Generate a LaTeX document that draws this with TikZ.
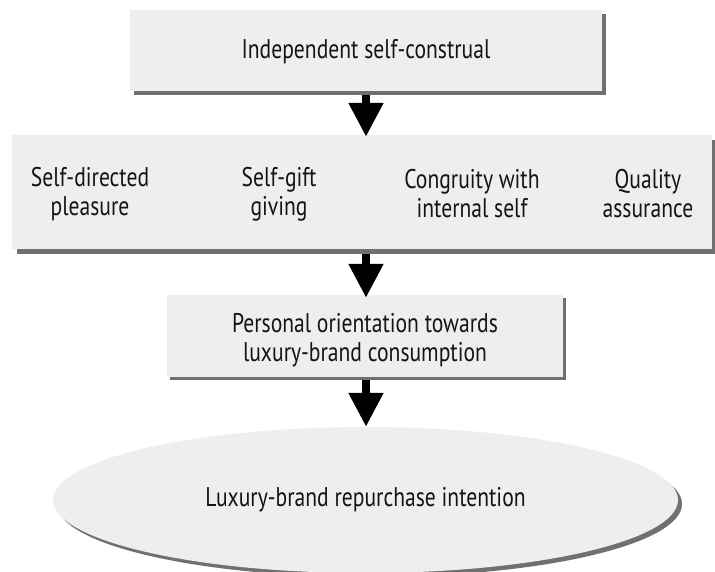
\documentclass[tikz,border=0pt]{standalone}
\usepackage{fontspec}
\setmainfont{PT Sans}[FakeStretch=0.8]
\usetikzlibrary{arrows.meta,shapes.geometric}
\definecolor{boxfill}{HTML}{EEEEEE}
\definecolor{shadowgray}{HTML}{707070}
\begin{document}
\begin{tikzpicture}[x=1pt,y=-1pt,
  lbl/.style={font=\fontsize{27}{29}\selectfont, align=center, text=black!92, inner sep=0pt},
  boxfillstyle/.style={fill=boxfill, draw=none},
  shadowstyle/.style={fill=shadowgray, draw=none},
  bigarrow/.style={draw=black, line width=8pt, -{Triangle[length=34pt,width=33pt]}}
]
\useasboundingbox (0,0) rectangle (715,572);
% box 1
\fill[shadowstyle] (134,14) rectangle (606,95);
\node[boxfillstyle, minimum width=472pt, minimum height=81pt, inner sep=0pt] (b1) at (366,50.5) {};
\node[lbl] (t1) at (366,52) {Independent self-construal};
% box 2
\fill[shadowstyle] (17,140) rectangle (717,254);
\node[boxfillstyle, minimum width=700pt, minimum height=114pt, inner sep=0pt] (b2) at (362,192) {};
\node[lbl] (c1) at (90,194) {Self-directed\\pleasure};
\node[lbl] (c2) at (279,194) {Self-gift\\giving};
\node[lbl] (c3) at (472,194) {Congruity with\\internal self};
\node[lbl] (c4) at (648,194) {Quality\\assurance};
% box 3
\fill[shadowstyle] (170,298) rectangle (566,380);
\node[boxfillstyle, minimum width=396pt, minimum height=82pt, inner sep=0pt] (b3) at (365,336) {};
\node[lbl] (t3) at (365,340) {Personal orientation towards\\luxury-brand consumption};
% ellipse
\fill[shadowstyle] (369.5,504) ellipse [x radius=312.5, y radius=73];
\node[ellipse, boxfillstyle, minimum width=625pt, minimum height=146pt, inner sep=0pt] (e) at (365.5,500) {};
\node[lbl] (te) at (365.5,500) {Luxury-brand repurchase intention};
% arrows
\draw[bigarrow, shorten <=4pt, shorten >=-2pt] (b1.south) -- (b1.south |- b2.north);
\draw[bigarrow, shorten <=5pt, shorten >=-3pt] (b1.south |- b2.south) -- (b1.south |- b3.north);
\draw[bigarrow, shorten <=3pt, shorten >=0pt] (b1.south |- b3.south) -- (b1.south |- e.north);
\end{tikzpicture}
\end{document}
